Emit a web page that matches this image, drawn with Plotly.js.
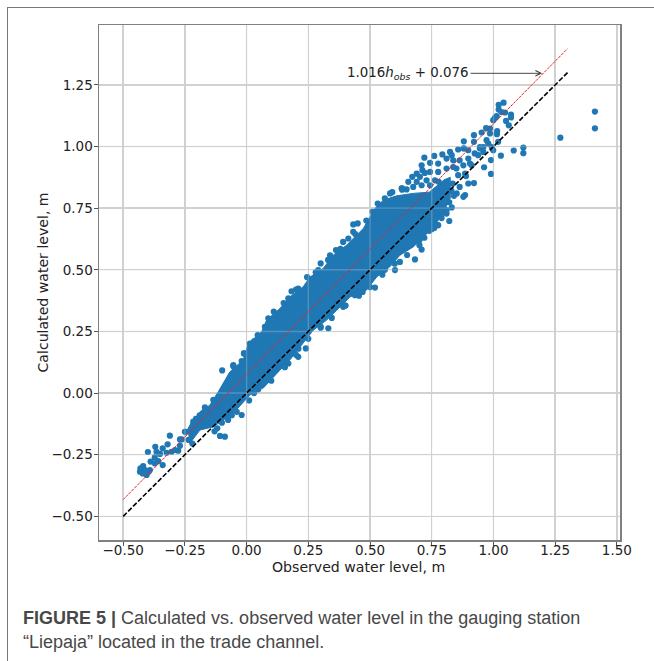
<!DOCTYPE html>
<html><head><meta charset="utf-8">
<script src="https://cdn.plot.ly/plotly-3.0.1.min.js"></script>
<style>html,body{margin:0;padding:0;background:#fff;overflow:hidden}
#frame{position:absolute;left:7px;top:7px;width:660px;height:670px;border-top:1.6px solid #777;border-left:1.6px solid #777}
#plot{position:absolute;left:0;top:0;width:654px;height:661px}</style>
</head><body><div id="frame"></div><div id="plot"></div>
<script>
const tickValues = [-0.5,-0.25,0,0.25,0.5,0.75,1,1.25,1.5];
const yTickValues = [-0.5,-0.25,0,0.25,0.5,0.75,1,1.25];
const tickLabels = ['−0.50','−0.25','0.00','0.25','0.50','0.75','1.00','1.25','1.50'];
const yTickLabels = ['−0.50','−0.25','0.00','0.25','0.50','0.75','1.00','1.25'];

// dense core of the point cloud, read as an outline
const coreObs = [-0.24,-0.23,-0.189,-0.149,-0.115,-0.088,-0.068,-0.014,0.007,0.061,0.081,0.135,0.175,0.229,0.257,0.31,0.351,0.405,0.473,0.5,0.52,0.553,0.608,0.675,0.74,0.80,0.825,0.825,0.80,0.776,0.729,0.675,0.621,0.58,0.527,0.486,0.419,0.365,0.324,0.27,0.229,0.175,0.135,0.067,0.04,0,-0.054,-0.135,-0.189,-0.23];
const coreCalc = [-0.15,-0.13,-0.076,-0.049,0.005,0.053,0.086,0.134,0.201,0.249,0.296,0.343,0.39,0.431,0.471,0.505,0.559,0.6,0.668,0.715,0.749,0.782,0.80,0.81,0.815,0.865,0.875,0.79,0.74,0.70,0.645,0.593,0.559,0.512,0.471,0.418,0.39,0.336,0.296,0.255,0.201,0.134,0.093,0.02,0.019,-0.022,-0.082,-0.137,-0.15,-0.204];

// individually visible points
const pointObs = [1.411,1.411,1.271,1.121,1.121,1.082,1.03,0.99,0.99,0.962,
1.041,1.021,1.021,1.033,1.047,1.071,1.071,1.051,1.062,1.013,1.006,0.999,1.015,1.014,0.986,0.97,0.986,0.952,0.921,0.921,0.88,0.88,0.972,0.979,0.945,0.999,1.019,0.993,0.959,0.938,
0.72,0.76,0.793,0.824,0.831,0.857,0.88,0.743,0.776,0.81,0.837,0.863,0.898,0.898,0.905,0.878,0.709,0.712,0.743,0.776,0.81,0.837,0.85,0.689,0.671,0.702,0.722,0.729,0.763,0.689,0.655,0.63,0.648,0.675,0.709,0.743,0.778,0.857,0.885,0.912,0.945,0.959,0.924,
0.921,0.889,0.898,0.863,0.851,0.885,0.878,0.831,0.821,0.81,0.79,0.821,0.776,0.763,0.74,0.70,0.72,0.76,0.83,0.835,0.84,
-0.054,-0.01,0.013,0.074,0.088,0.169,0.182,0.209,0.29,0.3,0.338,0.362,0.391,0.412,0.432,0.45,0.432,0.531,0.581,0.628,
-0.02,0.03,0.045,0.11,0.15,0.2,0.245,0.28,0.33,0.38,0.44,0.485,0.51,0.56,0.59,0.63,
0.047,0.169,0.209,0.24,0.331,0.391,0.439,0.52,0.601,0.621,0.682,0.709,0.772,0.81,0.60,0.56,0.47,0.40,0.30,0.21,0.12,
0.10,0.155,0.20,0.25,0.30,0.345,0.40,0.455,0.50,0.55,0.65,0.70,0.75,0.79,
-0.311,-0.37,-0.32,-0.4,-0.27,-0.277,-0.27,-0.34,-0.365,-0.351,-0.324,-0.304,-0.29,-0.372,-0.389,-0.34,-0.358,-0.372,-0.419,-0.43,-0.432,-0.421,-0.405,-0.392,-0.397,-0.412,
-0.25,-0.235,-0.215,-0.22,-0.205,-0.19,-0.17,-0.099,-0.011,-0.054,0.02,-0.02,0.047,-0.04,-0.088,-0.108,-0.119,-0.075,-0.135,-0.169,-0.216,-0.246,-0.263,-0.13,-0.10,-0.06,0.01,0.03];
const pointCalc = [1.142,1.074,1.036,0.996,0.973,0.984,0.963,0.945,0.889,0.916,
1.178,1.169,1.15,1.14,1.138,1.13,1.118,1.104,1.086,1.123,1.116,1.107,1.063,1.05,1.073,1.075,1.053,1.057,1.046,1.019,1.021,0.993,1.026,1.012,0.998,0.985,1.019,0.998,0.978,0.965,
0.955,0.962,0.968,0.978,0.965,0.988,0.992,0.934,0.931,0.951,0.944,0.944,0.985,0.951,0.931,0.924,0.924,0.904,0.897,0.897,0.911,0.917,0.911,0.89,0.877,0.877,0.893,0.863,0.863,0.857,0.857,0.83,0.826,0.836,0.843,0.843,0.857,0.884,0.89,0.924,0.992,0.998,0.972,
0.852,0.88,0.85,0.836,0.81,0.803,0.796,0.753,0.774,0.728,0.728,0.698,0.681,0.708,0.658,0.62,0.63,0.67,0.82,0.85,0.80,
0.113,0.161,0.201,0.269,0.303,0.384,0.413,0.424,0.499,0.526,0.559,0.58,0.613,0.627,0.684,0.688,0.654,0.769,0.81,0.83,
0.13,0.21,0.235,0.33,0.365,0.42,0.47,0.49,0.54,0.585,0.645,0.70,0.735,0.79,0.815,0.825,
0.019,0.12,0.147,0.181,0.263,0.35,0.397,0.428,0.499,0.532,0.542,0.582,0.681,0.742,0.525,0.50,0.41,0.355,0.27,0.18,0.10,
0.05,0.105,0.155,0.22,0.265,0.305,0.355,0.395,0.43,0.48,0.56,0.60,0.665,0.71,
-0.173,-0.218,-0.208,-0.239,-0.188,-0.234,-0.214,-0.224,-0.238,-0.247,-0.242,-0.238,-0.231,-0.261,-0.278,-0.292,-0.276,-0.285,-0.296,-0.305,-0.319,-0.326,-0.332,-0.312,-0.319,-0.312,
-0.157,-0.19,-0.125,-0.205,-0.105,-0.09,-0.075,0.092,0.161,0.109,0.201,-0.089,0.015,-0.076,-0.177,-0.174,-0.143,-0.109,-0.028,-0.058,-0.116,-0.157,-0.188,-0.155,-0.12,-0.09,-0.03,0.0];

const identityObs = [-0.5,1.3];
const identityCalc = [-0.5,1.3];
const fitObs = [-0.5,1.3];
const fitCalc = [-0.432,1.397];

// faint grid that shows through the points
const gridX = [], gridY = [];
tickValues.forEach(v => { gridX.push(v,v,null); gridY.push(-0.596,1.493,null); });
yTickValues.forEach(v => { gridX.push(-0.598,1.5126,null); gridY.push(v,v,null); });

const blue = '#1f77b4';
const traces = [
 {x:coreObs,y:coreCalc,mode:'lines',fill:'toself',fillcolor:blue,line:{color:blue,width:1},hoverinfo:'skip',showlegend:false},
 {x:pointObs,y:pointCalc,mode:'markers',marker:{color:blue,size:6.2},showlegend:false},
 {x:gridX,y:gridY,mode:'lines',line:{color:'rgba(205,205,205,0.3)',width:1.4},hoverinfo:'skip',showlegend:false},
 {x:identityObs,y:identityCalc,mode:'lines',line:{color:'#000',width:1.6,dash:'5px,2px'},showlegend:false},
 {x:fitObs,y:fitCalc,mode:'lines',line:{color:'#e0262a',width:1,dash:'3px,1px'},showlegend:false}
];
const axisFont = {family:'DejaVu Sans, sans-serif',size:13.5,color:'#222'};
const titleFont = {family:'DejaVu Sans, sans-serif',size:14.1,color:'#222'};
const capFont = {family:'Liberation Sans, Arial, sans-serif',size:18,color:'#484848'};
const layout = {
 width:654,height:661,
 margin:{l:99,r:34,t:25,b:121,pad:0},
 paper_bgcolor:'rgba(0,0,0,0)',plot_bgcolor:'#fff',
 xaxis:{range:[-0.598,1.5126],tickmode:'array',tickvals:tickValues,ticktext:tickLabels,tickfont:axisFont,ticklabelstandoff:-7,
  showgrid:true,gridcolor:'#d2d2d2',gridwidth:1.4,zeroline:false,showline:true,mirror:true,linecolor:'#808080',linewidth:1.5,
  ticks:'outside',ticklen:4,tickcolor:'#555',tickwidth:1},
 yaxis:{range:[-0.596,1.493],tickmode:'array',tickvals:yTickValues,ticktext:yTickLabels,tickfont:axisFont,ticklabelstandoff:-2,
  showgrid:true,gridcolor:'#d2d2d2',gridwidth:1.4,zeroline:false,showline:true,mirror:true,linecolor:'#808080',linewidth:1.5,
  ticks:'outside',ticklen:4,tickcolor:'#555',tickwidth:1},
 annotations:[
  {xref:'paper',yref:'paper',x:0.498,y:-0.0515,xanchor:'center',yanchor:'middle',showarrow:false,font:titleFont,text:'Observed water level, m'},
  {xref:'paper',yref:'paper',x:-0.1094,y:0.5,xanchor:'center',yanchor:'middle',textangle:-90,showarrow:false,font:titleFont,text:'Calculated water level, m'},
  {x:1.197,y:1.297,ax:0.654,ay:1.297,xref:'x',yref:'y',axref:'x',ayref:'y',showarrow:true,arrowhead:5,arrowsize:1.2,arrowwidth:0.9,arrowcolor:'#333',
   text:'1.016<i>h<sub>obs</sub></i> + 0.076',font:{family:'DejaVu Sans, sans-serif',size:13.4,color:'#222'}},
  {xref:'paper',yref:'paper',x:-0.149,y:-0.1505,xanchor:'left',yanchor:'middle',showarrow:false,align:'left',font:capFont,
   text:'<b>FIGURE 5 |</b> Calculated vs. observed water level in the gauging station'},
  {xref:'paper',yref:'paper',x:-0.149,y:-0.199,xanchor:'left',yanchor:'middle',showarrow:false,align:'left',font:capFont,
   text:'“Liepaja” located in the trade channel.'}
 ]
};
Plotly.newPlot('plot',traces,layout,{displayModeBar:false,staticPlot:true});
</script></body></html>
